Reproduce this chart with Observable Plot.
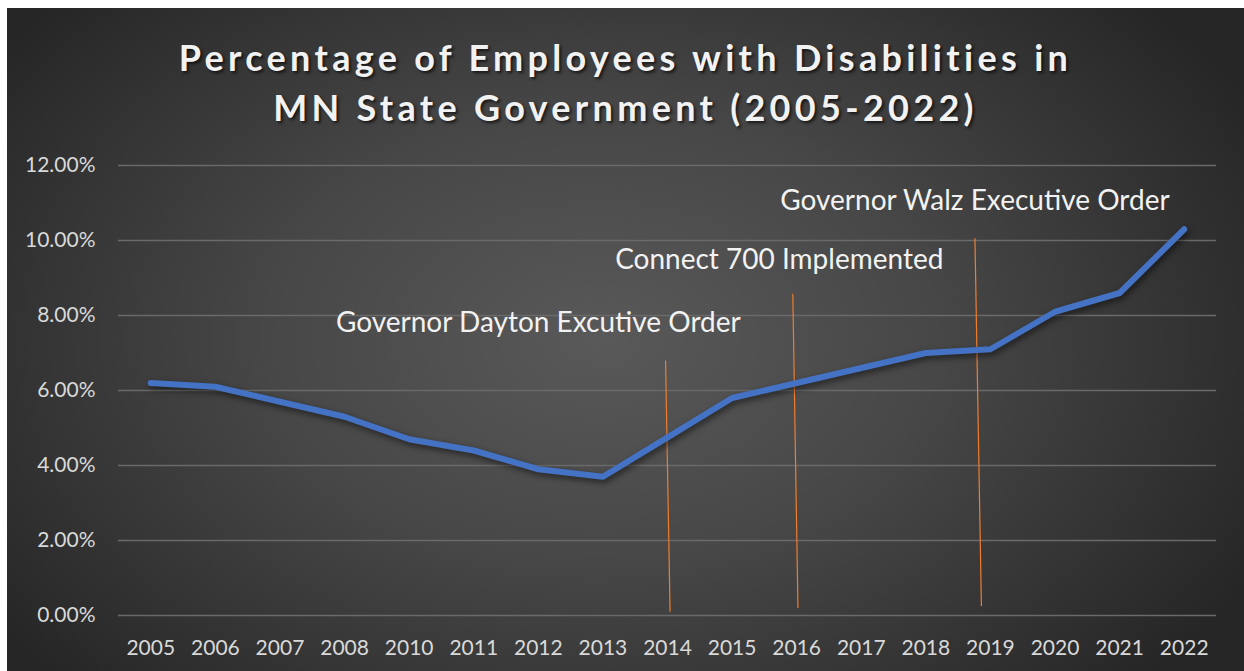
<!DOCTYPE html>
<html>
<head>
<meta charset="utf-8">
<script src="https://cdn.jsdelivr.net/npm/d3@7"></script>
<script src="https://cdn.jsdelivr.net/npm/@observablehq/plot@0.6"></script>
<style>
  html, body { margin: 0; padding: 0; background: #ffffff; }
  #panel {
    position: absolute; left: 7px; top: 8px; width: 1237px; height: 663px;
    background: radial-gradient(ellipse 60% 75% at 48% 50%, #595959 0%, #474747 45%, #262626 100%);
    overflow: hidden;
  }
  #title {
    box-sizing: border-box; height: 132px; padding-top: 24px;
    text-align: center; font-family: Lato, sans-serif; font-weight: 700;
    font-size: 36px; line-height: 50px; letter-spacing: 4.3px; color: #f2f2f2;
    text-shadow: 2px 2px 3px rgba(0,0,0,0.65);
  }
  #chart svg { display: block; }
  #chart g[aria-label="line"] path { filter: drop-shadow(2px 3px 3px rgba(0,0,0,0.55)); }
</style>
</head>
<body>
<div id="panel">
  <div id="title"><div>Percentage of Employees with Disabilities in</div><div>MN State Government (2005-2022)</div></div>
  <div id="chart"></div>
</div>
<script>
// Categories (note: 2009 is absent in the source chart)
const years = ["2005","2006","2007","2008","2010","2011","2012","2013","2014","2015","2016","2017","2018","2019","2020","2021","2022"];
// Percentage of employees with disabilities (%)
const pct = [6.2, 6.1, 5.7, 5.3, 4.7, 4.4, 3.9, 3.7, 4.75, 5.8, 6.2, 6.6, 7.0, 7.1, 8.1, 8.6, 10.3];
// Y axis ticks (%)
const yTicks = [0, 2, 4, 6, 8, 10, 12];

// Annotations (x in category-index units, y in %)
const annoText = ["Governor Dayton Excutive Order", "Connect 700 Implemented", "Governor Walz Executive Order"];
const annoTextX = [6.0, 9.73, 12.76];
const annoTextY = [7.79, 9.49, 11.04];
const annoTopX = [7.97, 9.94, 12.76];
const annoTopY = [6.8, 8.58, 10.06];
const annoBotX = [8.04, 10.02, 12.86];
const annoBotY = [0.1, 0.2, 0.25];

const series = years.map((y, i) => ({i, year: y, v: pct[i]}));
const annos = annoText.map((t, k) => ({t, tx: annoTextX[k], ty: annoTextY[k], x1: annoTopX[k], y1: annoTopY[k], x2: annoBotX[k], y2: annoBotY[k]}));

const chart = Plot.plot({
  width: 1237,
  height: 531,
  marginTop: 25,
  marginBottom: 56,
  marginLeft: 111,
  marginRight: 28,
  style: { background: "transparent", fontFamily: "Lato, sans-serif", color: "#d9d9d9", overflow: "visible" },
  x: { type: "linear", domain: [-0.5, years.length - 0.5], label: null },
  y: { domain: [0, 12], label: null },
  marks: [
    Plot.ruleY(yTicks, { stroke: "#6a6a6a", strokeWidth: 1.3 }),
    Plot.axisY(yTicks, { tickSize: 0, tickPadding: 23, fontSize: 21, fill: "#d9d9d9", tickFormat: d => d.toFixed(2) + "%", label: null }),
    Plot.axisX(d3.range(years.length), { tickSize: 0, tickPadding: 25, fontSize: 21, fill: "#d9d9d9", tickFormat: i => years[i], label: null }),
    Plot.link(annos, { x1: "x1", y1: "y1", x2: "x2", y2: "y2", stroke: "#ED7D31", strokeWidth: 1.2 }),
    Plot.line(series, { x: "i", y: "v", stroke: "#4472C4", strokeWidth: 6, strokeLinecap: "round", strokeLinejoin: "round" }),
    Plot.text(annos, { x: "tx", y: "ty", text: "t", fill: "#f2f2f2", fontSize: 28, textAnchor: "middle" })
  ]
});
document.getElementById("chart").appendChild(chart);
</script>
</body>
</html>
